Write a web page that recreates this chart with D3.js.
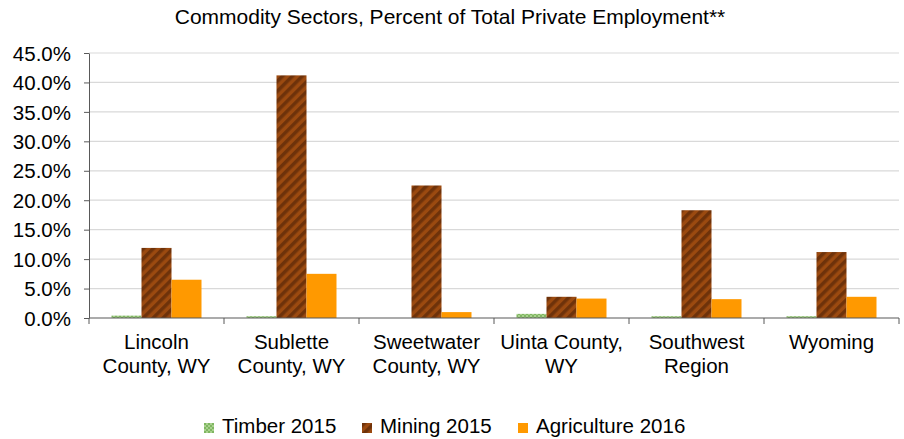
<!DOCTYPE html>
<html>
<head>
<meta charset="utf-8">
<script src="https://cdn.jsdelivr.net/npm/d3@7"></script>
<style>
  html, body { margin: 0; padding: 0; background: #fff; }
  svg text { font-family: "Liberation Sans", Arial, sans-serif; fill: #000; }
</style>
</head>
<body>
<svg id="chart" width="904" height="439"></svg>
<script>
// Regions shown along the x axis (each label split into lines)
const categories = [
  ["Lincoln", "County, WY"],
  ["Sublette", "County, WY"],
  ["Sweetwater", "County, WY"],
  ["Uinta County,", "WY"],
  ["Southwest", "Region"],
  ["Wyoming"]
];
const seriesNames = ["Timber 2015", "Mining 2015", "Agriculture 2016"];
// Share of total private employment, in percent
const timber2015 = [0.4, 0.3, 0.0, 0.7, 0.3, 0.3];
const mining2015 = [11.9, 41.2, 22.5, 3.6, 18.3, 11.2];
const agriculture2016 = [6.5, 7.5, 1.0, 3.3, 3.2, 3.6];
const yTicks = [0, 5, 10, 15, 20, 25, 30, 35, 40, 45];

const seriesValues = [timber2015, mining2015, agriculture2016];
const svg = d3.select("#chart");

const margin = { left: 89, right: 5, top: 53, bottom: 121 };
const width = 904 - margin.left - margin.right;
const height = 439 - margin.top - margin.bottom;

// Fill patterns
const defs = svg.append("defs");
const stripe = defs.append("pattern")
  .attr("id", "mining").attr("patternUnits", "userSpaceOnUse")
  .attr("width", 7).attr("height", 7)
  .attr("patternTransform", "rotate(45)");
stripe.append("rect").attr("width", 7).attr("height", 7).attr("fill", "#9b4a10");
stripe.append("rect").attr("width", 3.5).attr("height", 7).attr("fill", "#6e320a");

const dots = defs.append("pattern")
  .attr("id", "timber").attr("patternUnits", "userSpaceOnUse")
  .attr("width", 4).attr("height", 4);
dots.append("rect").attr("width", 4).attr("height", 4).attr("fill", "#a9d18e");
dots.append("rect").attr("width", 2).attr("height", 2).attr("fill", "#7fb661");
dots.append("rect").attr("x", 2).attr("y", 2).attr("width", 2).attr("height", 2).attr("fill", "#7fb661");

const fills = ["url(#timber)", "url(#mining)", "#ff9900"];

const g = svg.append("g").attr("transform", `translate(${margin.left},${margin.top})`);

const x0 = d3.scaleBand().domain(d3.range(categories.length)).range([0, width]).paddingInner(0).paddingOuter(0);
const x1 = d3.scaleBand().domain(d3.range(seriesNames.length))
  .range([x0.bandwidth() / 6, x0.bandwidth() * 5 / 6]);
const y = d3.scaleLinear().domain([0, 45]).range([height, 0]);

// Horizontal gridlines
g.append("g").selectAll("line").data(yTicks.filter(t => t > 0)).join("line")
  .attr("x1", 0).attr("x2", width)
  .attr("y1", d => y(d)).attr("y2", d => y(d))
  .attr("stroke", "#d9d9d9").attr("stroke-width", 1.2);

// Bars
const groups = g.append("g").selectAll("g").data(categories).join("g")
  .attr("transform", (d, i) => `translate(${x0(i)},0)`);
groups.selectAll("rect")
  .data((d, i) => seriesValues.map((vals, s) => ({ s, v: vals[i] })))
  .join("rect")
  .attr("x", d => x1(d.s))
  .attr("width", x1.bandwidth())
  .attr("y", d => y(d.v))
  .attr("height", d => height - y(d.v))
  .attr("fill", d => fills[d.s]);

// Y axis
const yAxis = g.append("g")
  .call(d3.axisLeft(y).tickValues(yTicks).tickFormat(d => d.toFixed(1) + "%").tickSize(5).tickSizeOuter(0));
yAxis.select(".domain").attr("stroke", "#595959");
yAxis.selectAll(".tick line").attr("stroke", "#595959");
yAxis.selectAll(".tick text").attr("x", -18).attr("font-size", 20.5).attr("dy", "0.35em");

// X axis with tick marks at category boundaries
const xAxis = g.append("g").attr("transform", `translate(0,${height})`);
xAxis.append("line").attr("x1", 0).attr("x2", width).attr("stroke", "#595959").attr("stroke-width", 1.2);
xAxis.selectAll("line.tk").data(d3.range(categories.length + 1)).join("line")
  .attr("class", "tk")
  .attr("x1", i => i * x0.bandwidth()).attr("x2", i => i * x0.bandwidth())
  .attr("y1", 0).attr("y2", 6).attr("stroke", "#595959");
const labels = xAxis.selectAll("text.cat").data(categories).join("text")
  .attr("class", "cat")
  .attr("text-anchor", "middle")
  .attr("font-size", 20.5)
  .attr("transform", (d, i) => `translate(${x0(i) + x0.bandwidth() / 2},31)`);
labels.selectAll("tspan").data(d => d).join("tspan")
  .attr("x", 0).attr("dy", (d, i) => i === 0 ? 0 : 24)
  .text(d => d);

// Title
svg.append("text")
  .attr("x", 450).attr("y", 24)
  .attr("text-anchor", "middle")
  .attr("font-size", 21)
  .text("Commodity Sectors, Percent of Total Private Employment**");

// Legend
const legendX = [204, 362, 518];
const legend = svg.append("g").selectAll("g").data(seriesNames).join("g")
  .attr("transform", (d, i) => `translate(${legendX[i]},423)`);
legend.append("rect").attr("width", 10).attr("height", 10).attr("fill", (d, i) => fills[i]);
legend.append("text").attr("x", 18).attr("y", 10).attr("font-size", 20.5).text(d => d);
</script>
</body>
</html>
